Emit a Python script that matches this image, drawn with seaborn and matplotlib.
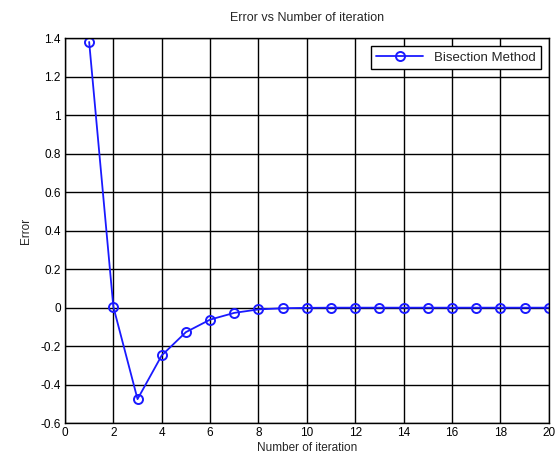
import matplotlib
matplotlib.use("Agg")
import matplotlib.pyplot as plt
import seaborn as sns
import pandas as pd

# data
iterations = list(range(1, 21))
errors = [1.38, 0.005, -0.475, -0.248, -0.127, -0.062, -0.027, -0.009, -0.003, -0.001,
          0.0, 0.0, 0.0, 0.0, 0.0, 0.0, 0.0, 0.0, 0.0, 0.0]
x_ticks = list(range(0, 21, 2))
y_ticks = [-0.6, -0.4, -0.2, 0, 0.2, 0.4, 0.6, 0.8, 1, 1.2, 1.4]
y_tick_labels = ["-0.6", "-0.4", "-0.2", "0", "0.2", "0.4", "0.6", "0.8", "1", "1.2", "1.4"]

df = pd.DataFrame({"Number of iteration": iterations, "Error": errors})

sns.set_style("white")
plt.rcParams['font.family'] = ['Liberation Sans', 'DejaVu Sans']

fig = plt.figure(figsize=(5.6, 4.59), dpi=100)
ax = fig.add_axes([0.116, 0.078, 0.864, 0.839])

sns.lineplot(data=df, x="Number of iteration", y="Error", ax=ax,
             color="#1a1aff", linewidth=1.3, marker="o", markersize=6.5,
             markerfacecolor="none", markeredgecolor="#1a1aff", markeredgewidth=1.4,
             label="Bisection Method")

ax.set_xlim(0, 20)
ax.set_ylim(-0.6, 1.4)
ax.set_xticks(x_ticks)
ax.set_yticks(y_ticks)
ax.set_yticklabels(y_tick_labels)
ax.grid(True, color="black", linewidth=1.0, linestyle="-")
ax.set_axisbelow(True)
ax.tick_params(direction="in", length=3, labelsize=8.5, colors="black", pad=3)
for s in ax.spines.values():
    s.set_color("black")
    s.set_linewidth(1.0)

ax.set_title("Error vs Number of iteration", fontsize=9, pad=12)
ax.set_xlabel("Number of iteration", fontsize=8.5, labelpad=2)
ax.set_ylabel("Error", fontsize=8.5, labelpad=6)

leg = ax.legend(loc="upper right", fontsize=9.5, frameon=True, fancybox=False,
                edgecolor="black", framealpha=1, handlelength=3.6,
                borderaxespad=0.6)
leg.get_frame().set_linewidth(1.0)

fig.savefig("out.png", dpi=100)
